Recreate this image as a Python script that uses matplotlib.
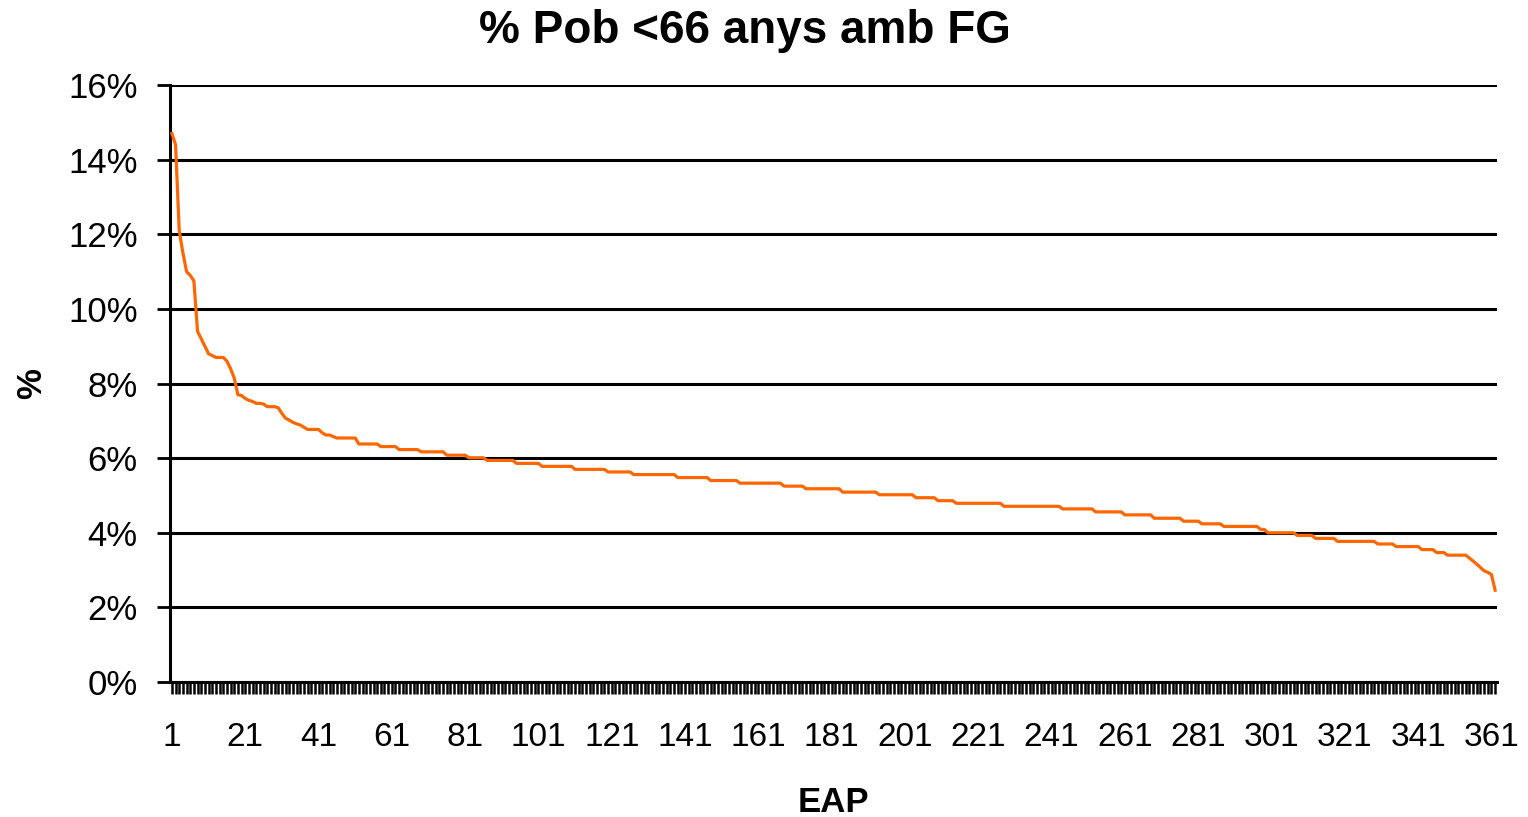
import numpy as np
import matplotlib
matplotlib.use("Agg")
import matplotlib.pyplot as plt
from matplotlib.ticker import MultipleLocator, FixedLocator, PercentFormatter

# sorted values (%): level + number of EAPs
levels = [14.7, 14.4, 12.1, 11.5, 11.0, 10.9, 10.75, 9.4, 9.2, 9.0, 8.8, 8.75,
          8.7, 8.6, 8.4, 8.15, 7.7, 7.68, 7.6, 7.55, 7.52, 7.47, 7.45,
          7.38, 7.35, 7.2, 7.07, 7.02, 6.96, 6.92, 6.89, 6.83, 6.77, 6.68,
          6.62, 6.58, 6.54, 6.38, 6.31, 6.23, 6.17, 6.08, 6.01, 5.94, 5.86,
          5.78, 5.70, 5.63, 5.56, 5.48, 5.40, 5.33, 5.25, 5.18, 5.09, 5.02,
          4.94, 4.86, 4.79, 4.71, 4.64, 4.56, 4.48, 4.39, 4.31, 4.24, 4.17,
          4.09, 4.00, 3.93, 3.85, 3.77, 3.70, 3.63, 3.55, 3.47, 3.40,
          3.32, 3.24, 3.16, 3.07, 2.98, 2.94, 2.88, 2.46]
counts = [1, 1, 1, 1, 1, 1, 1, 1, 1, 1, 1, 1,
          3, 1, 1, 1, 1, 1, 1, 1, 1, 2, 1,
          3, 1, 1, 1, 1, 1, 1, 1, 1, 4, 1,
          2, 1, 6, 6, 5, 6, 7, 6, 5, 8, 7,
          9, 9, 7, 12, 9, 8, 12, 6, 10, 10, 10,
          6, 5, 13, 16, 9, 8, 8, 8, 5, 6, 10,
          2, 8, 5, 6, 11, 5, 7, 4, 3, 6,
          1, 1, 1, 1, 1, 1, 1, 1]

pct = np.repeat(levels, counts) / 100.0
eap = np.arange(1, len(pct) + 1)
xlabels = list(range(1, len(pct) + 1, 20))

plt.rcParams['font.family'] = ['Liberation Sans', 'DejaVu Sans']

fig = plt.figure(figsize=(15.28, 8.17), dpi=100)
ax = fig.add_axes([0.1113, 0.1652, 0.8684, 0.7307])

ax.plot(eap, pct, color='#FF6600', lw=2.3, zorder=3)

ax.set_xlim(0.5, len(pct) + 0.5)
ax.set_ylim(0, 0.16)

ax.yaxis.set_major_locator(MultipleLocator(0.02))
ax.yaxis.set_major_formatter(PercentFormatter(1.0, decimals=0))
ax.grid(axis='y', color='black', lw=2.2)
ax.set_axisbelow(True)

ax.xaxis.set_major_locator(FixedLocator(xlabels))
ax.xaxis.set_minor_locator(MultipleLocator(1))
ax.tick_params(axis='x', which='both', direction='out', length=8.6, width=1.8,
               color='black', labelsize=24, pad=20)
ax.tick_params(axis='y', direction='out', length=9.4, width=2.0, labelsize=25, pad=14)

for s in ['top', 'right']:
    ax.spines[s].set_visible(False)
for s in ['left', 'bottom']:
    ax.spines[s].set_linewidth(2.2)

fig.text(0.4876, 0.962, '% Pob <66 anys amb FG', fontsize=33, fontweight='bold',
         ha='center', va='center')
ax.set_xlabel('EAP', fontsize=25, fontweight='bold', labelpad=24)
ax.set_ylabel('%', fontsize=25, fontweight='bold', labelpad=14)

fig.savefig('out.png', dpi=100)
